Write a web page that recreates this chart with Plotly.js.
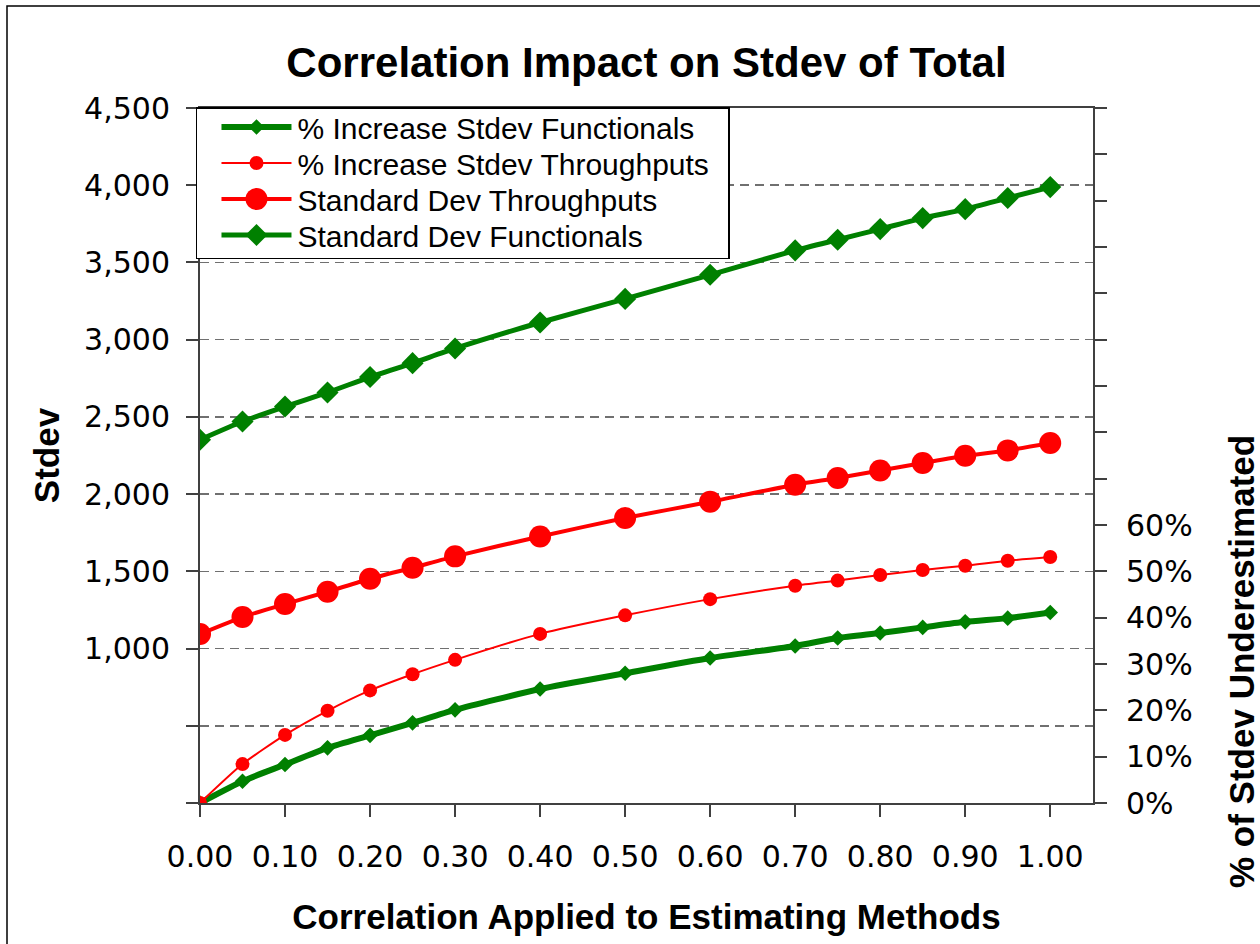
<!DOCTYPE html>
<html>
<head>
<meta charset="utf-8">
<script src="https://cdn.plot.ly/plotly-3.0.1.min.js"></script>
<style>
  html, body { margin: 0; padding: 0; background: #ffffff; }
  #chart { width: 1260px; height: 944px; }
</style>
</head>
<body>
<div id="chart"></div>
<script>
// ---- Data ----
const correlation = [0.00, 0.05, 0.10, 0.15, 0.20, 0.25, 0.30, 0.40, 0.50, 0.60, 0.70, 0.75, 0.80, 0.85, 0.90, 0.95, 1.00];

const pctIncreaseFunctionals = [0, 0.047, 0.083, 0.119, 0.146, 0.173, 0.201, 0.246, 0.280, 0.313, 0.339, 0.356, 0.367, 0.379, 0.391, 0.399, 0.411];
const pctIncreaseThroughputs = [0, 0.084, 0.147, 0.199, 0.243, 0.278, 0.309, 0.365, 0.405, 0.440, 0.469, 0.480, 0.492, 0.503, 0.512, 0.523, 0.531];
const stdevThroughputs = [1094, 1204, 1288, 1368, 1452, 1523, 1597, 1726, 1845, 1950, 2061, 2104, 2153, 2201, 2248, 2283, 2331];
const stdevFunctionals = [2352, 2470, 2567, 2658, 2758, 2848, 2943, 3111, 3264, 3420, 3578, 3647, 3716, 3787, 3845, 3917, 3988];

const seriesNames = [
  '% Increase Stdev Functionals',
  '% Increase Stdev Throughputs',
  'Standard Dev Throughputs',
  'Standard Dev Functionals'
];

const xTickVals = [0, 0.1, 0.2, 0.3, 0.4, 0.5, 0.6, 0.7, 0.8, 0.9, 1.0];
const xTickText = ['0.00', '0.10', '0.20', '0.30', '0.40', '0.50', '0.60', '0.70', '0.80', '0.90', '1.00'];

const yTickVals = [0, 500, 1000, 1500, 2000, 2500, 3000, 3500, 4000, 4500];
const yTickText = ['', '', '1,000', '1,500', '2,000', '2,500', '3,000', '3,500', '4,000', '4,500'];

const y2TickVals = [0, 0.1, 0.2, 0.3, 0.4, 0.5, 0.6, 0.7, 0.8, 0.9, 1.0, 1.1, 1.2, 1.3, 1.4, 1.5];
const y2TickText = ['0%', '10%', '20%', '30%', '40%', '50%', '60%', '', '', '', '', '', '', '', '', ''];

const titleText = 'Correlation Impact on Stdev of Total';
const xTitleText = 'Correlation Applied to Estimating Methods';
const yTitleText = 'Stdev';
const y2TitleText = '% of Stdev Underestimated';

// ---- Styles ----
const GREEN = '#008000';
const RED = '#ff0000';
const AXIS = '#404040';
const TICKFONT = { family: 'DejaVu Sans', size: 30, color: '#000000' };
const TITLEFAMILY = 'Liberation Sans, Arial, sans-serif';
const markerSizes = [12, 14, 22, 17];

const traces = [
  {
    name: seriesNames[0], x: correlation, y: pctIncreaseFunctionals, yaxis: 'y2',
    type: 'scatter', mode: 'lines+markers',
    line: { color: GREEN, width: 6, shape: 'spline', smoothing: 0.6 },
    marker: { symbol: 'diamond', size: markerSizes[0], color: GREEN }
  },
  {
    name: seriesNames[1], x: correlation, y: pctIncreaseThroughputs, yaxis: 'y2',
    type: 'scatter', mode: 'lines+markers',
    line: { color: RED, width: 2, shape: 'spline', smoothing: 0.6 },
    marker: { symbol: 'circle', size: markerSizes[1], color: RED }
  },
  {
    name: seriesNames[2], x: correlation, y: stdevThroughputs, yaxis: 'y',
    type: 'scatter', mode: 'lines+markers',
    line: { color: RED, width: 4, shape: 'spline', smoothing: 0.6 },
    marker: { symbol: 'circle', size: markerSizes[2], color: RED }
  },
  {
    name: seriesNames[3], x: correlation, y: stdevFunctionals, yaxis: 'y',
    type: 'scatter', mode: 'lines+markers',
    line: { color: GREEN, width: 5, shape: 'spline', smoothing: 0.6 },
    marker: { symbol: 'diamond', size: markerSizes[3], color: GREEN }
  }
];

const layout = {
  width: 1260,
  height: 944,
  paper_bgcolor: '#ffffff',
  plot_bgcolor: '#ffffff',
  margin: { l: 200, r: 167, t: 108, b: 141, pad: 0 },
  showlegend: true,
  title: {
    text: '<b>' + titleText + '</b>',
    font: { family: TITLEFAMILY, size: 42, color: '#000000' },
    x: 0.5, xref: 'paper', xanchor: 'center',
    y: 1 - 62 / 944, yref: 'container', yanchor: 'middle'
  },
  xaxis: {
    range: [0, 1.0503],
    tickmode: 'array', tickvals: xTickVals, ticktext: xTickText,
    ticks: 'outside', ticklen: 12, tickwidth: 2, tickcolor: AXIS,
    showline: true, linecolor: AXIS, linewidth: 2, mirror: true,
    showgrid: false, zeroline: false,
    tickfont: TICKFONT,
    ticklabelstandoff: 14,
    title: {
      text: '<b>' + xTitleText + '</b>',
      font: { family: TITLEFAMILY, size: 35, color: '#000000' },
      standoff: 31
    },
    automargin: false
  },
  yaxis: {
    range: [0, 4500],
    tickmode: 'array', tickvals: yTickVals, ticktext: yTickText,
    ticks: 'outside', ticklen: 12, tickwidth: 2, tickcolor: AXIS,
    showline: true, linecolor: AXIS, linewidth: 2,
    showgrid: true, gridcolor: '#707070', gridwidth: 1.5, griddash: '9px,6px',
    zeroline: false,
    tickfont: TICKFONT,
    ticklabelstandoff: 10,
    title: {
      text: '<b>' + yTitleText + '</b>',
      font: { family: TITLEFAMILY, size: 35, color: '#000000' },
      standoff: 14
    },
    automargin: false
  },
  yaxis2: {
    overlaying: 'y', side: 'right',
    range: [0, 1.5],
    tickmode: 'array', tickvals: y2TickVals, ticktext: y2TickText,
    ticks: 'outside', ticklen: 12, tickwidth: 2, tickcolor: AXIS,
    showline: true, linecolor: AXIS, linewidth: 2,
    showgrid: false, zeroline: false,
    tickfont: TICKFONT,
    ticklabelstandoff: 13,
    automargin: false
  },
  legend: {
    x: -0.0045, y: 1.0014, xanchor: 'left', yanchor: 'top',
    xref: 'paper', yref: 'paper',
    bgcolor: '#ffffff', bordercolor: '#000000', borderwidth: 1.5,
    font: { family: TITLEFAMILY, size: 30, color: '#000000' },
    itemwidth: 90,
    tracegroupgap: 0
  },
  annotations: [
    {
      text: '<b>' + y2TitleText + '</b>',
      xref: 'paper', yref: 'paper',
      x: (1241 - 200) / 893, y: (803 - 662) / 695,
      xanchor: 'center', yanchor: 'middle',
      textangle: -90, showarrow: false,
      font: { family: TITLEFAMILY, size: 35, color: '#000000' }
    }
  ],
  shapes: [
    {
      type: 'rect', xref: 'paper', yref: 'paper',
      x0: (7 - 200) / 893, x1: 1.2,
      y0: -0.25, y1: (803 - 6) / 695,
      line: { color: '#000000', width: 1.5 },
      fillcolor: 'rgba(0,0,0,0)', layer: 'below'
    }
  ]
};

// Make the legend look like the original (longer sample lines, tighter rows).
function tuneLegend(gd) {
  try {
    const legend = gd.querySelector('g.legend');
    if (!legend) return;
    const rowGap = 36, firstRow = 20, boxW = 534, boxH = 152;
    const items = legend.querySelectorAll('g.traces');
    items.forEach(function (item, i) {
      const tr = item.getAttribute('transform') || '';
      const m = tr.match(/translate\(\s*([-\d.]+)[ ,]+([-\d.]+)\s*\)/);
      const x = m ? parseFloat(m[1]) : 0;
      item.setAttribute('transform', 'translate(' + x + ',' + (firstRow + i * rowGap) + ')');
      item.querySelectorAll('g.legendlines path').forEach(function (p) {
        p.setAttribute('d', 'M24,0h70');
      });
      const s = markerSizes[i] / Math.min(markerSizes[i], 16);
      item.querySelectorAll('g.legendpoints path').forEach(function (p) {
        p.setAttribute('transform', 'translate(59,0) scale(' + s + ')');
      });
    });
    const bg = legend.querySelector('rect.bg');
    if (bg) {
      bg.setAttribute('width', boxW - 1.5);
      bg.setAttribute('height', boxH - 1.5);
    }
  } catch (e) { /* keep default legend */ }
}

Plotly.newPlot('chart', traces, layout, { displayModeBar: false, staticPlot: true })
  .then(tuneLegend);
</script>
</body>
</html>
